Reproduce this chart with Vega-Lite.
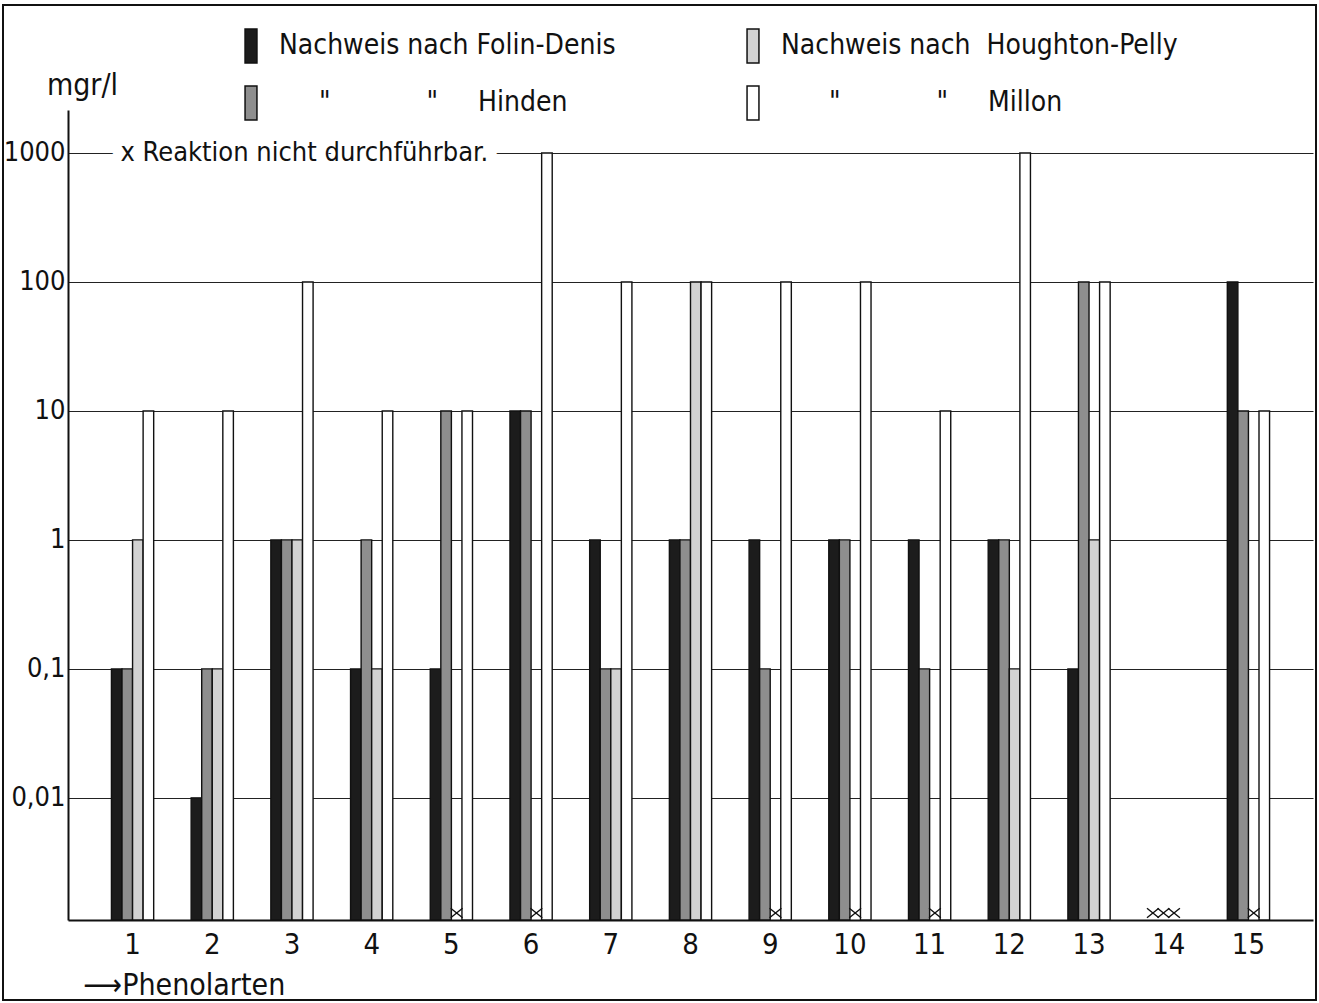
{
  "$schema": "https://vega.github.io/schema/vega-lite/v6.json",
  "width": 1313,
  "height": 995,
  "autosize": {"type": "none"},
  "padding": {"left": 3, "top": 5, "right": 3, "bottom": 3},
  "background": "white",
  "config": {
    "view": {"stroke": "#111", "strokeWidth": 2},
    "font": "DejaVu Sans Condensed, DejaVu Sans, sans-serif"
  },
  "datasets": {
    "werte": [
      {"Phenolart": 1, "Methode": "Folin-Denis", "Wert": 0.1},
      {"Phenolart": 1, "Methode": "Hinden", "Wert": 0.1},
      {"Phenolart": 1, "Methode": "Houghton-Pelly", "Wert": 1},
      {"Phenolart": 1, "Methode": "Millon", "Wert": 10},
      {"Phenolart": 2, "Methode": "Folin-Denis", "Wert": 0.01},
      {"Phenolart": 2, "Methode": "Hinden", "Wert": 0.1},
      {"Phenolart": 2, "Methode": "Houghton-Pelly", "Wert": 0.1},
      {"Phenolart": 2, "Methode": "Millon", "Wert": 10},
      {"Phenolart": 3, "Methode": "Folin-Denis", "Wert": 1},
      {"Phenolart": 3, "Methode": "Hinden", "Wert": 1},
      {"Phenolart": 3, "Methode": "Houghton-Pelly", "Wert": 1},
      {"Phenolart": 3, "Methode": "Millon", "Wert": 100},
      {"Phenolart": 4, "Methode": "Folin-Denis", "Wert": 0.1},
      {"Phenolart": 4, "Methode": "Hinden", "Wert": 1},
      {"Phenolart": 4, "Methode": "Houghton-Pelly", "Wert": 0.1},
      {"Phenolart": 4, "Methode": "Millon", "Wert": 10},
      {"Phenolart": 5, "Methode": "Folin-Denis", "Wert": 0.1},
      {"Phenolart": 5, "Methode": "Hinden", "Wert": 10},
      {"Phenolart": 5, "Methode": "Millon", "Wert": 10},
      {"Phenolart": 6, "Methode": "Folin-Denis", "Wert": 10},
      {"Phenolart": 6, "Methode": "Hinden", "Wert": 10},
      {"Phenolart": 6, "Methode": "Millon", "Wert": 1000},
      {"Phenolart": 7, "Methode": "Folin-Denis", "Wert": 1},
      {"Phenolart": 7, "Methode": "Hinden", "Wert": 0.1},
      {"Phenolart": 7, "Methode": "Houghton-Pelly", "Wert": 0.1},
      {"Phenolart": 7, "Methode": "Millon", "Wert": 100},
      {"Phenolart": 8, "Methode": "Folin-Denis", "Wert": 1},
      {"Phenolart": 8, "Methode": "Hinden", "Wert": 1},
      {"Phenolart": 8, "Methode": "Houghton-Pelly", "Wert": 100},
      {"Phenolart": 8, "Methode": "Millon", "Wert": 100},
      {"Phenolart": 9, "Methode": "Folin-Denis", "Wert": 1},
      {"Phenolart": 9, "Methode": "Hinden", "Wert": 0.1},
      {"Phenolart": 9, "Methode": "Millon", "Wert": 100},
      {"Phenolart": 10, "Methode": "Folin-Denis", "Wert": 1},
      {"Phenolart": 10, "Methode": "Hinden", "Wert": 1},
      {"Phenolart": 10, "Methode": "Millon", "Wert": 100},
      {"Phenolart": 11, "Methode": "Folin-Denis", "Wert": 1},
      {"Phenolart": 11, "Methode": "Hinden", "Wert": 0.1},
      {"Phenolart": 11, "Methode": "Millon", "Wert": 10},
      {"Phenolart": 12, "Methode": "Folin-Denis", "Wert": 1},
      {"Phenolart": 12, "Methode": "Hinden", "Wert": 1},
      {"Phenolart": 12, "Methode": "Houghton-Pelly", "Wert": 0.1},
      {"Phenolart": 12, "Methode": "Millon", "Wert": 1000},
      {"Phenolart": 13, "Methode": "Folin-Denis", "Wert": 0.1},
      {"Phenolart": 13, "Methode": "Hinden", "Wert": 100},
      {"Phenolart": 13, "Methode": "Houghton-Pelly", "Wert": 1},
      {"Phenolart": 13, "Methode": "Millon", "Wert": 100},
      {"Phenolart": 15, "Methode": "Folin-Denis", "Wert": 100},
      {"Phenolart": 15, "Methode": "Hinden", "Wert": 10},
      {"Phenolart": 15, "Methode": "Millon", "Wert": 10}
    ],
    "nicht_durchfuehrbar": [
      {"Phenolart": 5, "Methode": "Houghton-Pelly"},
      {"Phenolart": 6, "Methode": "Houghton-Pelly"},
      {"Phenolart": 9, "Methode": "Houghton-Pelly"},
      {"Phenolart": 10, "Methode": "Houghton-Pelly"},
      {"Phenolart": 11, "Methode": "Houghton-Pelly"},
      {"Phenolart": 14, "Methode": "Folin-Denis"},
      {"Phenolart": 14, "Methode": "Hinden"},
      {"Phenolart": 14, "Methode": "Houghton-Pelly"},
      {"Phenolart": 15, "Methode": "Houghton-Pelly"}
    ],
    "hinweis": [
      {"Text": "x Reaktion nicht durchführbar."}
    ]
  },
  "layer": [
    {
      "data": {"name": "werte"},
      "mark": {"type": "bar", "stroke": "#111", "strokeWidth": 1.4},
      "encoding": {
        "x": {
          "field": "Phenolart",
          "type": "ordinal",
          "scale": {
            "domain": [1, 2, 3, 4, 5, 6, 7, 8, 9, 10, 11, 12, 13, 14, 15],
            "range": [65, 1310],
            "paddingInner": 0.47,
            "paddingOuter": 0.545
          },
          "axis": {
            "orient": "bottom",
            "offset": -80,
            "grid": false,
            "domain": true,
            "domainColor": "#111",
            "domainWidth": 2,
            "ticks": false,
            "tickSize": 0,
            "labelPadding": 10,
            "labelAngle": 0,
            "labelFontSize": 29,
            "labelColor": "#111",
            "title": "⟶Phenolarten",
            "titleX": 80,
            "titleY": 65,
            "titleAlign": "left",
            "titleBaseline": "middle",
            "titleFontSize": 30,
            "titleFontWeight": "normal",
            "titleColor": "#111"
          }
        },
        "xOffset": {
          "field": "Methode",
          "type": "nominal",
          "scale": {
            "domain": ["Folin-Denis", "Hinden", "Houghton-Pelly", "Millon"],
            "paddingInner": 0,
            "paddingOuter": 0
          }
        },
        "y": {
          "field": "Wert",
          "type": "quantitative",
          "scale": {
            "type": "log",
            "domain": [0.00113, 2154],
            "range": [915, 105],
            "nice": false
          },
          "axis": {
            "values": [0.01, 0.1, 1, 10, 100, 1000],
            "offset": -65,
            "grid": true,
            "gridColor": "#222",
            "gridWidth": 1.2,
            "domainColor": "#111",
            "domainWidth": 2,
            "ticks": false,
            "tickSize": 0,
            "labelPadding": 3,
            "labelFontSize": 27,
            "labelColor": "#111",
            "labelFlush": false,
            "labelExpr": "replace(format(datum.value, '~g'), '.', ',')",
            "title": "mgr/l",
            "titleAngle": 0,
            "titleX": 14,
            "titleY": 80,
            "titleAlign": "center",
            "titleBaseline": "middle",
            "titleFontSize": 30,
            "titleFontWeight": "normal",
            "titleColor": "#111"
          }
        },
        "y2": {"datum": 0.00113},
        "fill": {
          "field": "Methode",
          "type": "nominal",
          "scale": {
            "domain": ["Folin-Denis", "Hinden", "Houghton-Pelly", "Millon"],
            "range": ["#1c1c1c", "#8e8e8e", "#d2d2d2", "#ffffff"]
          },
          "legend": {
            "orient": "none",
            "legendX": 230,
            "legendY": 23,
            "columns": 2,
            "title": null,
            "padding": 0,
            "symbolType": "M-0.35,-1L0.35,-1L0.35,1L-0.35,1Z",
            "symbolSize": 1156,
            "symbolStrokeColor": "#111",
            "symbolStrokeWidth": 1.5,
            "symbolOpacity": 1,
            "labelFontSize": 28,
            "labelColor": "#111",
            "labelOffset": 10,
            "labelLimit": 700,
            "labelBaseline": "middle",
            "rowPadding": 17,
            "columnPadding": 119,
            "gridAlign": "each",
            "labelExpr": "datum.label == 'Folin-Denis' ? 'Nachweis nach Folin-Denis' : datum.label == 'Houghton-Pelly' ? 'Nachweis nach\u00a0 Houghton-Pelly' : datum.label == 'Hinden' ? '\u200b\u00a0\u00a0\u00a0\u00a0\u00a0\"\u00a0\u00a0\u00a0\u00a0\u00a0\u00a0\u00a0\u00a0\u00a0\u00a0\u00a0\u00a0\"\u00a0\u00a0\u00a0\u00a0\u00a0Hinden' : '\u200b\u00a0\u00a0\u00a0\u00a0\u00a0\u00a0\"\u00a0\u00a0\u00a0\u00a0\u00a0\u00a0\u00a0\u00a0\u00a0\u00a0\u00a0\u00a0\"\u00a0\u00a0\u00a0\u00a0\u00a0Millon'"
          }
        }
      }
    },
    {
      "data": {"name": "nicht_durchfuehrbar"},
      "mark": {
        "type": "point",
        "shape": "M-1,-0.8L1,0.8M-1,0.8L1,-0.8",
        "size": 140,
        "filled": false,
        "stroke": "#111",
        "strokeWidth": 1.4,
        "opacity": 1
      },
      "encoding": {
        "x": {"field": "Phenolart", "type": "ordinal"},
        "xOffset": {"field": "Methode", "type": "nominal"},
        "y": {"datum": 0.00128, "type": "quantitative"}
      }
    },
    {
      "data": {"name": "hinweis"},
      "mark": {
        "type": "text",
        "align": "left",
        "baseline": "middle",
        "dx": 9,
        "fontSize": 27,
        "fill": "white",
        "stroke": "white",
        "strokeWidth": 22
      },
      "encoding": {
        "x": {"datum": 1, "type": "ordinal", "bandPosition": 0},
        "y": {"datum": 1000, "type": "quantitative"},
        "text": {"field": "Text"}
      }
    },
    {
      "data": {"name": "hinweis"},
      "mark": {
        "type": "text",
        "align": "left",
        "baseline": "middle",
        "dx": 9,
        "fontSize": 27,
        "fill": "#111"
      },
      "encoding": {
        "x": {"datum": 1, "type": "ordinal", "bandPosition": 0},
        "y": {"datum": 1000, "type": "quantitative"},
        "text": {"field": "Text"}
      }
    }
  ]
}
